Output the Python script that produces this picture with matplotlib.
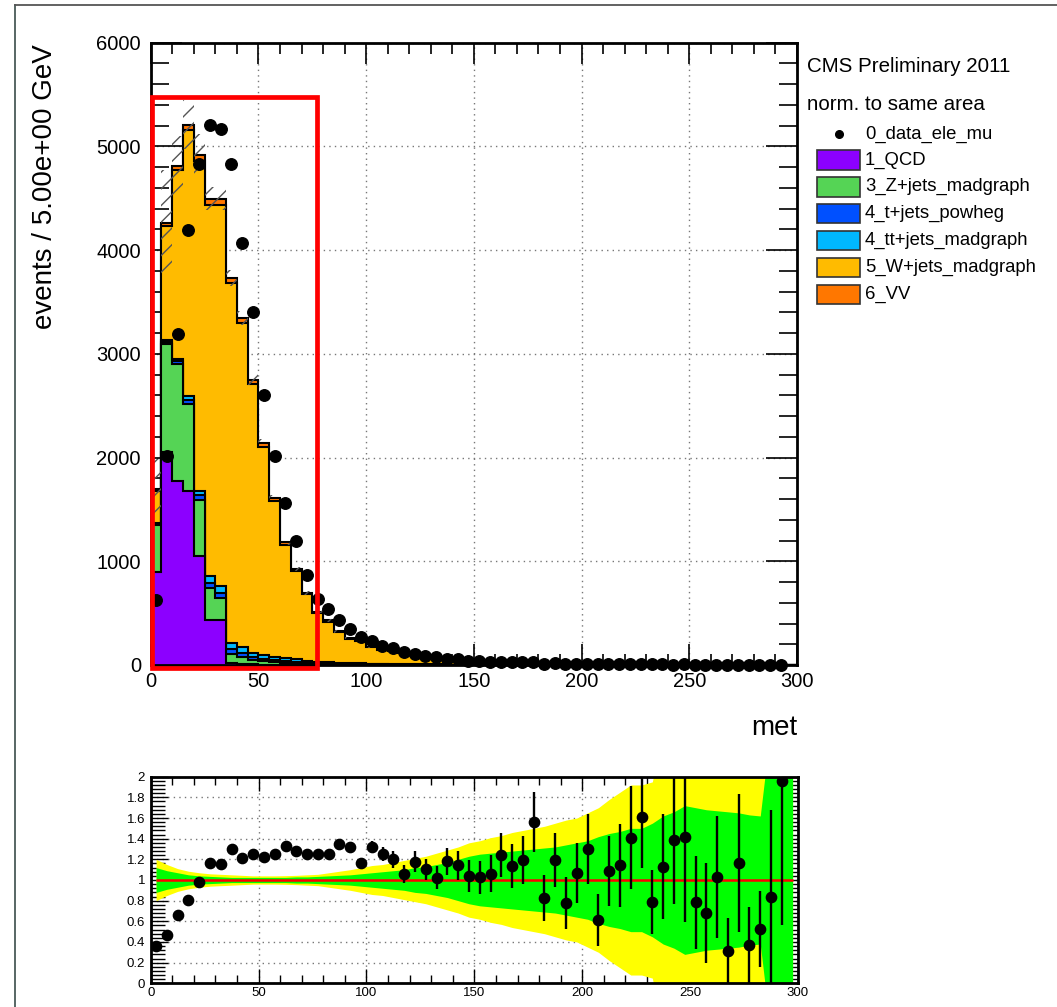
import numpy as np
import matplotlib
matplotlib.use("Agg")
import matplotlib.pyplot as plt
from matplotlib.patches import Rectangle
from matplotlib.lines import Line2D
from matplotlib.ticker import MultipleLocator, FuncFormatter

plt.rcParams["font.family"] = ["Liberation Sans", "DejaVu Sans"]
plt.rcParams["hatch.linewidth"] = 1.0

# --- DATA: events per 5 GeV bin of met, 0-300 GeV ---
bin_edges = list(range(0, 305, 5))

qcd = [900, 2050, 1775, 1678, 1048, 436, 436, 15, 10, 5, 3, 2, 1] + [0] * 47
zjets = [450, 1048, 1129, 839, 542, 306, 209, 95, 70, 45, 35, 28, 22, 18, 13,
         10, 8, 6, 5, 4, 3, 2.5, 2, 2, 1.5, 1.5, 1, 1, 1,
         0.8, 0.7, 0.6, 0.5, 0.5, 0.4, 0.4, 0.3, 0.3, 0.3, 0.2, 0.2, 0.2, 0.2] + [0.1] * 17
tjets = [12, 20, 25, 40, 45, 50, 50, 40, 35, 28, 22, 18, 14, 12, 9,
         7, 6, 5, 4, 3.5, 3, 2.5, 2, 2, 1.5, 1.5, 1, 1, 1,
         0.8, 0.7, 0.6, 0.5, 0.5, 0.4, 0.4, 0.3, 0.3, 0.3, 0.2, 0.2, 0.2, 0.2] + [0.1] * 17
ttjets = [8, 12, 20, 40, 40, 70, 70, 60, 55, 42, 37, 33, 28, 25, 20,
          15, 13, 11, 9, 8, 7, 6, 5.5, 5, 4, 3.5, 3, 2.5, 2,
          1.8, 1.6, 1.4, 1.2, 1.0, 0.9, 0.8, 0.7, 0.6, 0.5, 0.45, 0.4, 0.35, 0.3,
          0.3, 0.25, 0.2, 0.2, 0.2, 0.15, 0.15] + [0.1] * 10
wjets = [310, 1104, 1819, 2564, 3186, 3573, 3670, 3470, 3131, 2590, 2008, 1499, 1095, 850, 638,
         467, 392, 293, 236, 212.5, 159, 131, 121, 109, 79.5, 72.5, 71, 45, 42,
         34.8, 30.4, 26.9, 23.4, 20.7, 18.1, 15.8, 14.2, 12.4, 11.1, 9.9, 8.6, 7.6, 6.7,
         6.0, 5.3, 4.7, 4.2, 3.6, 3.2, 2.8, 2.5, 2.2, 2.0, 1.7, 1.5, 1.3, 1.2, 1.0, 0.9, 0.8]
vv = [20, 25, 40, 50, 60, 60, 60, 50, 45, 40, 35, 30, 25, 20, 16,
      13, 11, 9, 8, 7, 6, 5, 4.5, 4, 3.5, 3, 3, 2.5, 2,
      1.8, 1.6, 1.5, 1.4, 1.3, 1.2, 1.1, 1.0, 0.9, 0.8, 0.7, 0.65, 0.6, 0.55,
      0.5, 0.45, 0.4, 0.38, 0.35, 0.32, 0.3, 0.27, 0.25, 0.22, 0.2, 0.18, 0.16, 0.15, 0.13, 0.12, 0.11]

# relative uncertainty of the stack (hatched band)
stack_unc = [0.17, 0.12, 0.06, 0.045, 0.04, 0.025, 0.025, 0.02, 0.02, 0.02,
             0.02, 0.02, 0.025, 0.025, 0.03, 0.03, 0.035, 0.04, 0.045, 0.05,
             0.06, 0.07, 0.08, 0.09, 0.1, 0.11, 0.12, 0.13, 0.14, 0.15,
             0.16, 0.17, 0.18, 0.19, 0.2, 0.21, 0.22, 0.23, 0.24, 0.25,
             0.26, 0.27, 0.28, 0.29, 0.3, 0.3, 0.3, 0.3, 0.3, 0.3,
             0.3, 0.3, 0.3, 0.3, 0.3, 0.3, 0.3, 0.3, 0.3, 0.3]

data = [629, 2013, 3195, 4195, 4830, 5211, 5172, 4830, 4072, 3405,
        2604, 2011, 1559, 1194, 871, 636, 539, 436, 345, 274,
        235, 184, 161, 129, 106, 90, 81, 61, 55, 41.5,
        36, 33, 33.5, 27, 25, 29, 13.6, 17.4, 10, 12.3,
        13, 5.5, 8.7, 8, 8.7, 6, 6.9, 6.2, 3.4, 4.9,
        2.4, 1.9, 2.6, 0.7, 2.3, 0.75, 0.74, 1.1, 2.5, np.nan]

ratio = [0.357, 0.47, 0.665, 0.81, 0.982, 1.164, 1.157, 1.303, 1.216, 1.248,
         1.225, 1.254, 1.326, 1.28, 1.248, 1.248, 1.254, 1.345, 1.319, 1.167,
         1.319, 1.254, 1.199, 1.06, 1.177, 1.102, 1.021, 1.183, 1.144, 1.037,
         1.028, 1.06, 1.241, 1.134, 1.196, 1.562, 0.827, 1.196, 0.775, 1.066,
         1.30, 0.613, 1.086, 1.141, 1.41, 1.611, 0.784, 1.128, 1.384, 1.416,
         0.784, 0.681, 1.028, 0.314, 1.164, 0.373, 0.528, 0.833, 1.955, np.nan]
ratio_err = [0.01, 0.01, 0.01, 0.01, 0.01, 0.01, 0.01, 0.01, 0.01, 0.015,
             0.015, 0.02, 0.025, 0.03, 0.03, 0.035, 0.04, 0.05, 0.05, 0.05,
             0.06, 0.07, 0.08, 0.09, 0.1, 0.1, 0.11, 0.13, 0.14, 0.157,
             0.16, 0.18, 0.215, 0.21, 0.23, 0.29, 0.22, 0.26, 0.25, 0.29,
             0.34, 0.25, 0.34, 0.40, 0.50, 0.49, 0.31, 0.51, 0.62, 0.82,
             0.45, 0.48, 0.59, 0.32, 0.67, 0.37, 0.37, 0.84, 1.39, np.nan]

# half widths of the bands in the ratio panel
band_yellow = [0.20, 0.15, 0.11, 0.085, 0.07, 0.06, 0.055, 0.05, 0.045, 0.04,
               0.04, 0.04, 0.042, 0.045, 0.05, 0.055, 0.07, 0.085, 0.1, 0.12,
               0.14, 0.15, 0.17, 0.19, 0.21, 0.23, 0.26, 0.29, 0.32, 0.36,
               0.38, 0.41, 0.43, 0.46, 0.48, 0.5, 0.52, 0.55, 0.58, 0.6,
               0.65, 0.7, 0.78, 0.85, 0.92, 0.92, 0.95, 1.5, 1.5, 1.5,
               1.5, 1.5, 1.5, 1.5, 1.5, 1.5, 1.5, 1.5, 1.5, 1.5]
band_green = [0.12, 0.09, 0.07, 0.05, 0.04, 0.035, 0.03, 0.025, 0.025, 0.025,
              0.025, 0.025, 0.025, 0.03, 0.03, 0.035, 0.04, 0.045, 0.05, 0.06,
              0.07, 0.08, 0.09, 0.1, 0.12, 0.13, 0.15, 0.17, 0.2, 0.23,
              0.25, 0.26, 0.27, 0.28, 0.29, 0.3, 0.31, 0.32, 0.34, 0.36,
              0.38, 0.42, 0.45, 0.47, 0.5, 0.5, 0.55, 0.62, 0.66, 0.72,
              0.7, 0.68, 0.67, 0.66, 0.65, 0.63, 0.62, 1.5, 1.5, 1.5]

names = ["1_QCD", "3_Z+jets_madgraph", "4_t+jets_powheg", "4_tt+jets_madgraph",
         "5_W+jets_madgraph", "6_VV"]
colors = ["#8c00ff", "#55d455", "#0050ff", "#00b8ff", "#ffbb00", "#ff7700"]

# --- FIGURE ---
W, H = 1057, 1007
fig = plt.figure(figsize=(W / 100, H / 100), dpi=100)


def fx(x):
    return x / W


def fy(y):
    return 1 - y / H


edges = np.array(bin_edges, dtype=float)
centers = 0.5 * (edges[:-1] + edges[1:])

ax = fig.add_axes([fx(150.7), fy(665), fx(797) - fx(150.7), fy(42.7) - fy(665)])
cum = np.cumsum(np.array([qcd, zjets, tjets, ttjets, wjets, vv], dtype=float), axis=0)
for i in reversed(range(len(names))):
    ax.stairs(cum[i], edges, baseline=0, fill=True, facecolor=colors[i],
              edgecolor="none", zorder=2)
    ax.stairs(cum[i], edges, baseline=0, fill=False, color="black", lw=1.5, zorder=2)

total = cum[-1]
unc = np.array(stack_unc)
ax.stairs(total * (1 + unc), edges, baseline=total * (1 - unc), fill=True,
          facecolor="none", edgecolor="#555555", hatch="//", lw=0, zorder=3)
ax.plot(centers, data, "o", color="black", ms=8.3, zorder=4, clip_on=False)

ax.set_xlim(0, 300)
ax.set_ylim(0, 6000)
ax.xaxis.set_major_locator(MultipleLocator(50))
ax.xaxis.set_minor_locator(MultipleLocator(10))
ax.yaxis.set_major_locator(MultipleLocator(1000))
ax.yaxis.set_minor_locator(MultipleLocator(200))
ax.tick_params(which="both", direction="in", top=True, right=True, labelsize=14.5, width=1.2)
ax.tick_params(axis="y", which="major", length=22, pad=7)
ax.tick_params(axis="y", which="minor", length=13)
ax.tick_params(axis="x", which="major", length=15, pad=5)
ax.tick_params(axis="x", which="minor", length=8)
ax.set_axisbelow(True)
ax.grid(True, which="major", linestyle=(0, (1, 3)), color="#777777", lw=1.0)
for s in ax.spines.values():
    s.set_linewidth(2)

fig.text(fx(45), fy(44), "events / 5.00e+00 GeV", rotation=90, ha="center", va="top",
         fontsize=20)
fig.text(fx(797), fy(728), "met", ha="right", va="center", fontsize=20)

# legend
fig.text(fx(807), fy(67), "CMS Preliminary 2011", ha="left", va="center", fontsize=14.8)
fig.text(fx(807), fy(105), "norm. to same area", ha="left", va="center", fontsize=14.8)
fig.add_artist(Line2D([fx(839.3)], [fy(134.3)], marker="o", color="black", ms=5.5,
                      transform=fig.transFigure))
fig.text(fx(865), fy(134.3), "0_data_ele_mu", ha="left", va="center", fontsize=13.3)
for i, name in enumerate(names):
    yc = 160 + 26.9 * i
    fig.add_artist(Rectangle((fx(817.3), fy(yc + 9.6)), fx(860) - fx(817.3), 19.3 / H,
                             transform=fig.transFigure, facecolor=colors[i],
                             edgecolor="#333333", lw=1.2))
    fig.text(fx(865), fy(yc), name, ha="left", va="center", fontsize=13.3)

# --- RATIO PANEL ---
ax2 = fig.add_axes([fx(150.7), fy(983.3), fx(798) - fx(150.7), fy(776.7) - fy(983.3)])
yel = np.array(band_yellow)
grn = np.array(band_green)
ax2.fill_between(centers, 1 - yel, 1 + yel, color="#ffff00", lw=0, zorder=1)
ax2.fill_between(centers, 1 - grn, 1 + grn, color="#00ff00", lw=0, zorder=1.1)
ax2.hlines(1, centers[0], centers[-1], color="#ff0000", lw=1.8, zorder=2)
ax2.errorbar(centers, ratio, yerr=ratio_err, fmt="o", color="black", ms=7.4,
             elinewidth=1.7, capsize=0, zorder=3)
ax2.set_xlim(0, 300)
ax2.set_ylim(0, 2)
ax2.xaxis.set_major_locator(MultipleLocator(50))
ax2.xaxis.set_minor_locator(MultipleLocator(10))
ax2.yaxis.set_major_locator(MultipleLocator(0.2))
ax2.yaxis.set_minor_locator(MultipleLocator(0.04))
ax2.yaxis.set_major_formatter(FuncFormatter(lambda v, p: f"{v:g}"))
ax2.tick_params(which="both", direction="in", top=True, right=True, labelsize=9.5, width=1.0)
ax2.tick_params(axis="y", which="major", length=12, pad=4)
ax2.tick_params(axis="y", which="minor", length=10)
ax2.tick_params(axis="x", which="major", length=10, pad=3)
ax2.tick_params(axis="x", which="minor", length=6)
ax2.set_axisbelow(True)
ax2.grid(True, which="major", linestyle=(0, (1, 3)), color="#777777", lw=1.0)
for s in ax2.spines.values():
    s.set_linewidth(2)

# red highlight box and screenshot frame
fig.add_artist(Rectangle((fx(151.7), fy(667.5)), fx(316.7) - fx(151.7), fy(96.7) - fy(667.5),
                         transform=fig.transFigure, fill=False, edgecolor="#ff0000", lw=3.4))
fig.add_artist(Line2D([fx(15), fx(15)], [0, fy(4.5)], color="#4a5a58", lw=1.3,
                      transform=fig.transFigure))
fig.add_artist(Line2D([fx(15), 1], [fy(4.5), fy(4.5)], color="#555555", lw=1.3,
                      transform=fig.transFigure))

fig.savefig("out.png", dpi=100)
